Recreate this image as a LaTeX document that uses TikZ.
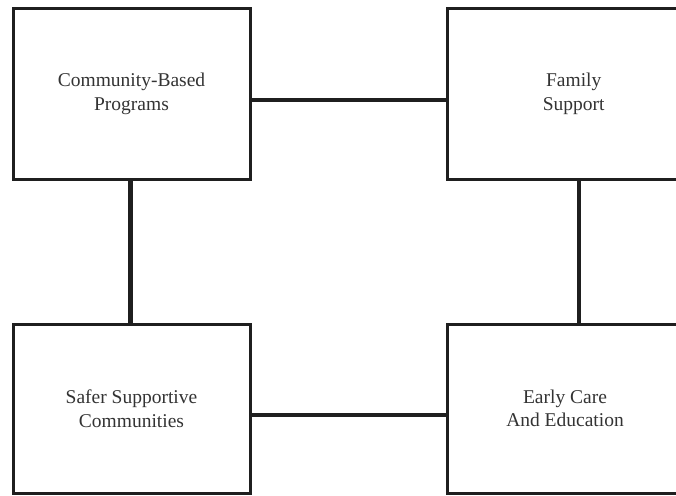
\documentclass[tikz,border=0pt]{standalone}
\usepackage{fontspec}
\setmainfont{Liberation Serif}
\begin{document}
\begin{tikzpicture}[x=1pt,y=-1pt,
  boxnode/.style={draw=black!88, line width=3pt, rectangle, inner sep=0pt,
    align=center, text=black!80, font=\fontsize{19.5}{23.5}\selectfont},
  link/.style={draw=black!88, line width=4.2pt}]
\useasboundingbox (0,0) rectangle (676,495);
\clip (0,0) rectangle (676,495);
\node[boxnode, minimum width=237pt, minimum height=171pt] (tl) at (131.5,94) {Community-Based\\Programs};
\node[boxnode, minimum width=252.5pt, minimum height=171pt] (tr) at (573.75,94) {Family\\Support};
\node[boxnode, minimum width=237pt, minimum height=169pt] (bl) at (131.5,408.5) {Safer Supportive\\Communities};
\node[boxnode, minimum width=236pt, minimum height=169pt] (br) at (565,408.5) {Early Care\\And Education};
\draw[link] ([yshift=-6pt]tl.east) -- ([yshift=-6pt]tl.east -| tr.west);
\draw[link] ([xshift=-1pt]tl.south) -- ([xshift=-1pt]tl.south |- bl.north);
\draw[link] ([xshift=5.25pt]tr.south) -- ([xshift=5.25pt]tr.south |- br.north);
\draw[link] ([yshift=-6.5pt]bl.east) -- ([yshift=-6.5pt]bl.east -| br.west);
\end{tikzpicture}
\end{document}
